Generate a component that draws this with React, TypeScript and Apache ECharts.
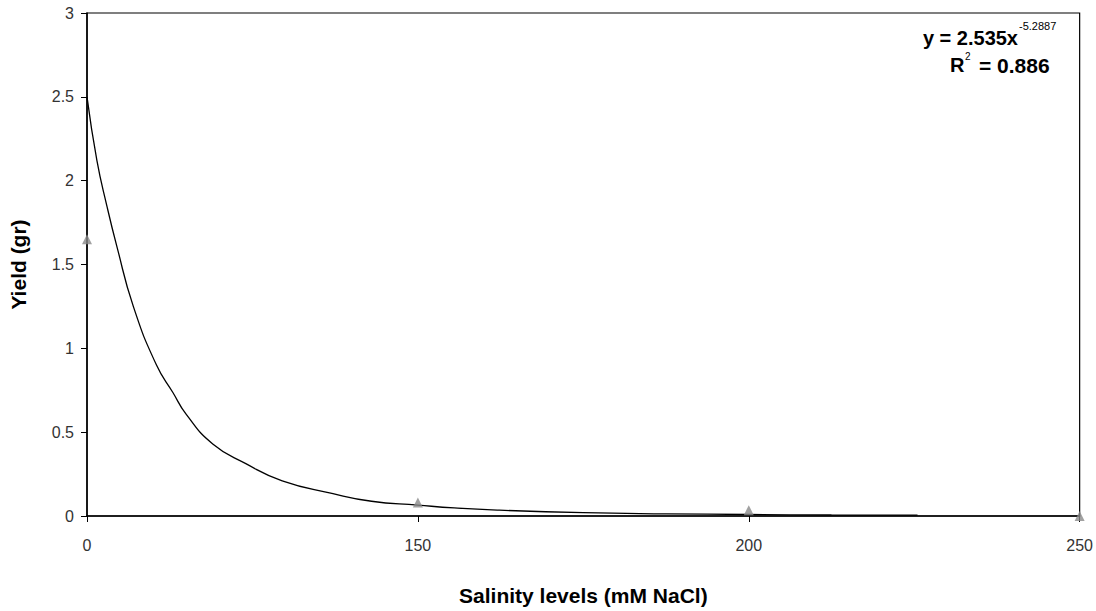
import React, { useEffect, useRef } from "react";
import * as echarts from "echarts";

const categories = ["0", "150", "200", "250"];
const observed = [1.65, 0.08, 0.035, 0.0];
// trendline: [category position, yield]
const trendX = [0, 0.03, 0.06, 0.09, 0.14, 0.21, 0.26, 0.3, 0.38, 0.48, 0.59, 0.74, 0.86, 1.0, 1.11, 1.24, 1.5, 1.75, 2.0, 2.25, 2.51];
const trendY = [2.5, 2.12, 1.85, 1.61, 1.25, 0.9, 0.735, 0.606, 0.43, 0.312, 0.21, 0.135, 0.088, 0.065, 0.048, 0.035, 0.02, 0.013, 0.009, 0.006, 0.005];
const yTicks = [0, 0.5, 1, 1.5, 2, 2.5, 3];

export default function App() {
  const ref = useRef<HTMLDivElement>(null);
  useEffect(() => {
    if (!ref.current) return;
    const chart = echarts.init(ref.current, null, { renderer: "svg" });
    const font = "Liberation Sans, Arial, sans-serif";
    chart.setOption({
      animation: false,
      backgroundColor: "#ffffff",
      grid: { left: 87, right: 11, top: 13, bottom: 88, show: true, borderColor: "#000", borderWidth: 1.2 },
      xAxis: {
        type: "value",
        min: 0,
        max: 3,
        interval: 1,
        name: "Salinity levels (mM NaCl)",
        nameLocation: "middle",
        nameGap: 69,
        nameTextStyle: { fontFamily: font, fontWeight: "bold", fontSize: 21, color: "#000" },
        axisLine: { lineStyle: { color: "#000", width: 1.5 } },
        axisTick: { show: true, length: 6, inside: false, lineStyle: { color: "#000" } },
        axisLabel: {
          formatter: (v: number) => categories[Math.round(v)] ?? "",
          fontFamily: font,
          fontSize: 16,
          color: "#333",
          margin: 21,
        },
        splitLine: { show: false },
      },
      yAxis: {
        type: "value",
        min: yTicks[0],
        max: yTicks[yTicks.length - 1],
        interval: 0.5,
        name: "Yield (gr)",
        nameLocation: "middle",
        nameGap: 58,
        nameTextStyle: { fontFamily: font, fontWeight: "bold", fontSize: 21, color: "#000" },
        axisLine: { show: true, lineStyle: { color: "#000", width: 1.5 } },
        axisTick: { show: true, length: 6, lineStyle: { color: "#000" } },
        axisLabel: { fontFamily: font, fontSize: 16, color: "#333", margin: 13 },
        splitLine: { show: false },
      },
      series: [
        {
          type: "line",
          data: trendX.map((x, i) => [x, trendY[i]]),
          smooth: true,
          showSymbol: false,
          lineStyle: { color: "#000", width: 1.3 },
          z: 2,
        },
        {
          type: "scatter",
          data: observed.map((v, i) => [i, v]),
          symbol: "triangle",
          symbolSize: 10,
          itemStyle: { color: "#8a8a8a" },
          z: 3,
        },
      ],
      graphic: [
        {
          type: "text",
          x: 1018,
          y: 38,
          style: { text: "y = 2.535x", fontFamily: font, fontWeight: "bold", fontSize: 20, fill: "#000", align: "right", verticalAlign: "middle" },
        },
        {
          type: "text",
          x: 1019,
          y: 26,
          style: { text: "-5.2887", fontFamily: font, fontSize: 11, fill: "#000", align: "left", verticalAlign: "middle" },
        },
        {
          type: "text",
          x: 950,
          y: 65,
          style: { text: "R", fontFamily: font, fontWeight: "bold", fontSize: 20, fill: "#000", align: "left", verticalAlign: "middle" },
        },
        {
          type: "text",
          x: 965,
          y: 56,
          style: { text: "2", fontFamily: font, fontSize: 10, fill: "#000", align: "left", verticalAlign: "middle" },
        },
        {
          type: "text",
          x: 979,
          y: 65,
          style: { text: "= 0.886", fontFamily: font, fontWeight: "bold", fontSize: 21, fill: "#000", align: "left", verticalAlign: "middle" },
        },
      ],
    });
    return () => chart.dispose();
  }, []);
  return <div ref={ref} style={{ position: "fixed", left: 0, top: 0, width: 1096, height: 611 }} />;
}
